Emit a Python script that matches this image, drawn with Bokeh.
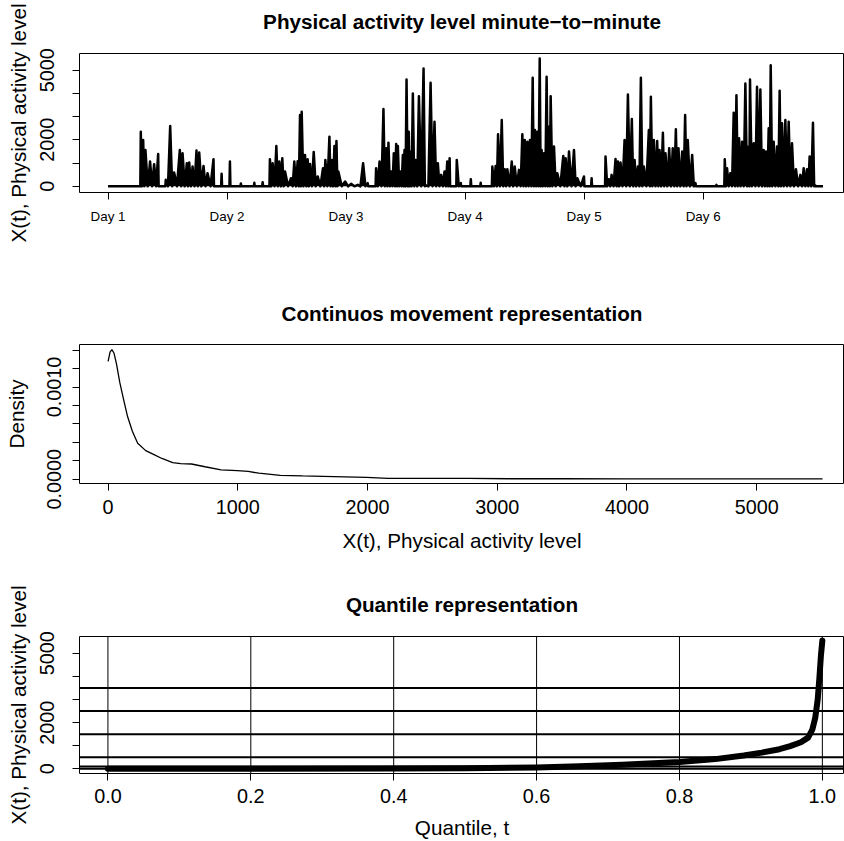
from bokeh.plotting import figure
from bokeh.models import FixedTicker, Span, Range1d, LinearAxis
from bokeh.layouts import column
from bokeh.embed import file_html
from bokeh.resources import INLINE

FONT = "Liberation Sans"

# ---------------- Panel 1: minute-to-minute activity ----------------
day_ticks = [0, 1, 2, 3, 4, 5]
day_labels = ["Day 1", "Day 2", "Day 3", "Day 4", "Day 5", "Day 6"]
record_days = [0.0, 6.007]          # recording start / end (days after Day 1)
activity_ticks = [0, 1000, 2000, 3000, 4000, 5000]
activity_labels = ["0", "", "2000", "", "", "5000"]

spike_day = [0.275, 0.295, 0.314, 0.353, 0.387, 0.421, 0.485, 0.522, 0.555, 0.603,
             0.626, 0.662, 0.682, 0.710, 0.743, 0.766, 0.802, 0.836, 0.886, 0.954,
             1.024, 1.116, 1.229, 1.299, 1.360, 1.383, 1.414, 1.439, 1.464, 1.487,
             1.537, 1.565, 1.593, 1.613, 1.627, 1.655, 1.677, 1.697, 1.728, 1.762,
             1.806, 1.826, 1.860, 1.879, 1.902, 1.919, 1.935, 1.992, 2.042, 2.098,
             2.143, 2.182, 2.252, 2.281, 2.314, 2.337, 2.356, 2.379, 2.401, 2.421,
             2.435, 2.457, 2.477, 2.491, 2.508, 2.527, 2.539, 2.561, 2.584, 2.612,
             2.651, 2.673, 2.710, 2.743, 2.771, 2.799, 2.827, 2.850, 2.870,
             2.930, 2.964, 3.048, 3.131, 3.229, 3.257, 3.277, 3.308, 3.333, 3.355,
             3.392, 3.417, 3.453, 3.481, 3.501, 3.523, 3.545, 3.568, 3.587, 3.607,
             3.627, 3.643, 3.663, 3.685, 3.705, 3.719, 3.747, 3.775, 3.825, 3.845,
             3.873, 3.915, 3.943, 3.999, 4.063, 4.180, 4.208, 4.231, 4.264, 4.284,
             4.306, 4.340, 4.368, 4.401, 4.424, 4.452, 4.477, 4.502, 4.544, 4.561,
             4.586, 4.614, 4.634, 4.662, 4.684, 4.715, 4.745, 4.771, 4.793, 4.824,
             4.849, 4.871, 4.908, 4.936, 5.112, 5.182, 5.201, 5.229, 5.257, 5.280,
             5.302, 5.327, 5.355, 5.383, 5.394, 5.425, 5.453, 5.481, 5.509, 5.529,
             5.551, 5.568, 5.593, 5.621, 5.643, 5.663, 5.691, 5.719, 5.747, 5.780,
             5.817, 5.845, 5.873, 5.895, 5.923, 5.943]
spike_level = [2352, 1995, 1566, 1065, 951, 1394, 279, 2595, 593, 1566,
               1423, 994, 1022, 851, 1537, 1451, 879, 565, 1166, 536,
               1065, 121, 150, 180, 1166, 994, 1737, 1065, 1208, 636,
               350, 1065, 1079, 3067, 3210, 1351, 1166, 965, 1480, 422,
               779, 1137, 2138, 1137, 1737, 1952, 636, 207, 107, 64,
               994, 136, 779, 1065, 3325, 1637, 1880, 636, 1423, 1823,
               1737, 636, 1351, 1566, 4598, 2352, 1494, 3997, 1137, 3882,
               5070, 36, 4454, 2781, 994, 493, 636, 1065, 1208,
               1137, 136, 308, 150, 851, 879, 2238, 2853, 737, 737,
               1065, 851, 708, 2238, 1995, 1923, 1995, 4669, 2424, 2352,
               5498, 1566, 1423, 4712, 2567, 3882, 1709, 565, 1308, 1208,
               1494, 1566, 350, 422, 350, 1280, 308, 493, 1180, 1065,
               1022, 1995, 3954, 2896, 1137, 851, 4669, 851, 2424, 3854,
               1995, 1952, 1566, 2309, 1423, 1637, 1637, 2452, 1637, 1494,
               3067, 1995, 1351, 136, 64, 1166, 779, 565, 3167, 3925,
               2066, 1923, 4426, 1709, 4598, 1852, 4283, 4168, 1566, 1494,
               2495, 5212, 1923, 1709, 4111, 2710, 2853, 2781, 1852, 737,
               493, 779, 737, 1280, 2738, 36]
assert len(spike_day) == len(spike_level)

# ---------------- Panel 2: density ----------------
dens_x = [0, 15, 29, 45, 65, 90, 120, 150, 187, 228, 290, 350, 415, 498, 560, 643,
          747, 871, 996, 1080, 1162, 1328, 1500, 1660, 1992, 2158, 2500, 2780,
          3100, 3500, 4000, 4700, 5508]
dens_y = [0.00128, 0.00138, 0.001407, 0.00137, 0.00125, 0.00105, 0.00086, 0.00068,
          0.00052, 0.00039, 0.00031, 0.00027, 0.000225, 0.00018, 0.000168, 0.000165,
          0.000135, 0.000102, 0.000092, 0.000085, 0.000065, 0.000042, 0.000035,
          0.00003, 0.000019, 0.000008, 0.000008, 0.00001, 0.000005, 0.000005,
          0.000004, 0.000004, 0.000003]
dens_xticks = [0, 1000, 2000, 3000, 4000, 5000]
dens_xlabels = ["0", "1000", "2000", "3000", "4000", "5000"]
dens_yticks = [0.0, 0.0002, 0.0004, 0.0006, 0.0008, 0.001, 0.0012, 0.0014]
dens_ylabels = ["0.0000", "", "", "", "", "0.0010", "", ""]

# ---------------- Panel 3: quantile function ----------------
quant_t = [0, 0.2, 0.4, 0.5, 0.6, 0.66, 0.72, 0.8, 0.85, 0.89, 0.915, 0.94, 0.955,
           0.97, 0.98, 0.986, 0.990, 0.9935, 0.996, 0.998, 1.0]
quant_x = [0, 0, 10, 25, 60, 110, 180, 290, 420, 580, 700, 850, 980,
           1150, 1350, 1700, 2200, 3000, 4000, 4900, 5550]
quant_tticks = [0.0, 0.2, 0.4, 0.6, 0.8, 1.0]
quant_tlabels = ["0.0", "0.2", "0.4", "0.6", "0.8", "1.0"]
ref_levels = [0, 100, 500, 1500, 2500, 3500]


# path of the minute series: each spike rises from and falls back to the floor
path_x, path_y = [record_days[0]], [0]
for i, (t, v) in enumerate(zip(spike_day, spike_level)):
    if i > 0:
        gap = t - spike_day[i - 1]
        if gap > 0.06:
            path_x += [spike_day[i - 1] + 0.004, t - 0.004]
            path_y += [0, 0]
        else:
            path_x.append((t + spike_day[i - 1]) / 2)
            path_y.append(0)
    else:
        path_x.append(t - 0.004)
        path_y.append(0)
    path_x.append(t)
    path_y.append(v)
path_x += [spike_day[-1] + 0.004, record_days[1]]
path_y += [0, 0]


def style(p):
    p.title.text = ""
    p.outline_line_color = "black"
    p.outline_line_width = 1
    p.outline_line_alpha = 1
    p.xgrid.visible = False
    p.ygrid.visible = False
    p.background_fill_color = "white"
    p.border_fill_color = "white"
    for ax in p.axis:
        ax.axis_line_color = None
        ax.major_tick_line_color = "black"
        ax.major_tick_out = 7
        ax.major_tick_in = 0
        ax.minor_tick_line_color = None
        ax.major_label_text_font = FONT
        ax.major_label_text_font_size = "19.8px"
        ax.major_label_text_color = "black"
        ax.axis_label_text_font = FONT
        ax.axis_label_text_font_size = "20.7px"
        ax.axis_label_text_font_style = "normal"
        ax.axis_label_text_color = "black"
    p.yaxis.major_label_orientation = "parallel"


def add_title(p, text, standoff):
    ax = LinearAxis(ticker=FixedTicker(ticks=[]), axis_label=text,
                    axis_line_color=None, major_tick_out=0, major_tick_in=0,
                    minor_tick_out=0, minor_tick_in=0, major_label_standoff=0,
                    major_label_text_font_size="0px",
                    axis_label_standoff=standoff, axis_label_text_font=FONT,
                    axis_label_text_font_size="20.7px", axis_label_text_font_style="bold",
                    axis_label_text_color="black")
    p.add_layout(ax, "above")


W = 844
# Panel 1
p1 = figure(width=W, height=269, x_range=Range1d(-0.24, 6.188), y_range=Range1d(-266, 5717),
            output_backend="svg", toolbar_location=None,
            min_border_left=79, min_border_right=0, min_border_top=53, min_border_bottom=77)
style(p1)
p1.varea(x=path_x, y1=0, y2=path_y, color="black")
p1.line(path_x, path_y, line_width=2.5, color="black", line_join="round")
p1.xaxis.ticker = FixedTicker(ticks=day_ticks)
p1.xaxis.major_label_overrides = dict(zip(day_ticks, day_labels))
p1.xaxis.major_label_text_font_size = "13.4px"
p1.xaxis.major_label_standoff = 9
p1.yaxis.ticker = FixedTicker(ticks=activity_ticks)
p1.yaxis.major_label_overrides = dict(zip(activity_ticks, activity_labels))
p1.yaxis.axis_label = "X(t), Physical activity level"
p1.yaxis.major_label_standoff = 18
p1.yaxis.axis_label_standoff = 8
add_title(p1, "Physical activity level minute\u2212to\u2212minute", 21)

# Panel 2
p2 = figure(width=W, height=294, x_range=Range1d(-220.5, 5677), y_range=Range1d(-0.0000467, 0.001462),
            output_backend="svg", toolbar_location=None,
            min_border_left=79, min_border_right=0, min_border_top=75, min_border_bottom=80)
style(p2)
p2.line(dens_x, dens_y, line_width=1.3, color="black")
p2.xaxis.ticker = FixedTicker(ticks=dens_xticks)
p2.xaxis.major_label_overrides = dict(zip(dens_xticks, dens_xlabels))
p2.xaxis.axis_label = "X(t), Physical activity level"
p2.xaxis.major_label_standoff = 9
p2.xaxis.axis_label_standoff = 12
p2.yaxis.ticker = FixedTicker(ticks=dens_yticks)
p2.yaxis.major_label_overrides = dict(zip(dens_yticks, dens_ylabels))
p2.yaxis.axis_label = "Density"
p2.yaxis.major_label_standoff = 11
p2.yaxis.axis_label_standoff = 17
add_title(p2, "Continuos movement representation", 20)

# Panel 3
p3 = figure(width=W, height=278, x_range=Range1d(-0.0398, 1.031), y_range=Range1d(-203, 5729),
            output_backend="svg", toolbar_location=None,
            min_border_left=79, min_border_right=0, min_border_top=73, min_border_bottom=65)
style(p3)
for t in quant_tticks:
    p3.add_layout(Span(location=t, dimension="height", line_color="black", line_width=1))
for h in ref_levels:
    p3.add_layout(Span(location=h, dimension="width", line_color="black", line_width=2))
p3.line(quant_t, quant_x, line_width=6, color="black", line_cap="round", line_join="round")
p3.xaxis.ticker = FixedTicker(ticks=quant_tticks)
p3.xaxis.major_label_overrides = dict(zip(quant_tticks, quant_tlabels))
p3.xaxis.axis_label = "Quantile, t"
p3.xaxis.major_label_standoff = 8
p3.xaxis.axis_label_standoff = 10
p3.yaxis.ticker = FixedTicker(ticks=activity_ticks)
p3.yaxis.major_label_overrides = dict(zip(activity_ticks, activity_labels))
p3.yaxis.axis_label = "X(t), Physical activity level"
p3.yaxis.major_label_standoff = 18
p3.yaxis.axis_label_standoff = 8
add_title(p3, "Quantile representation", 21)

layout = column(p1, p2, p3, spacing=0)
open("out.html", "w").write(file_html(layout, INLINE))
